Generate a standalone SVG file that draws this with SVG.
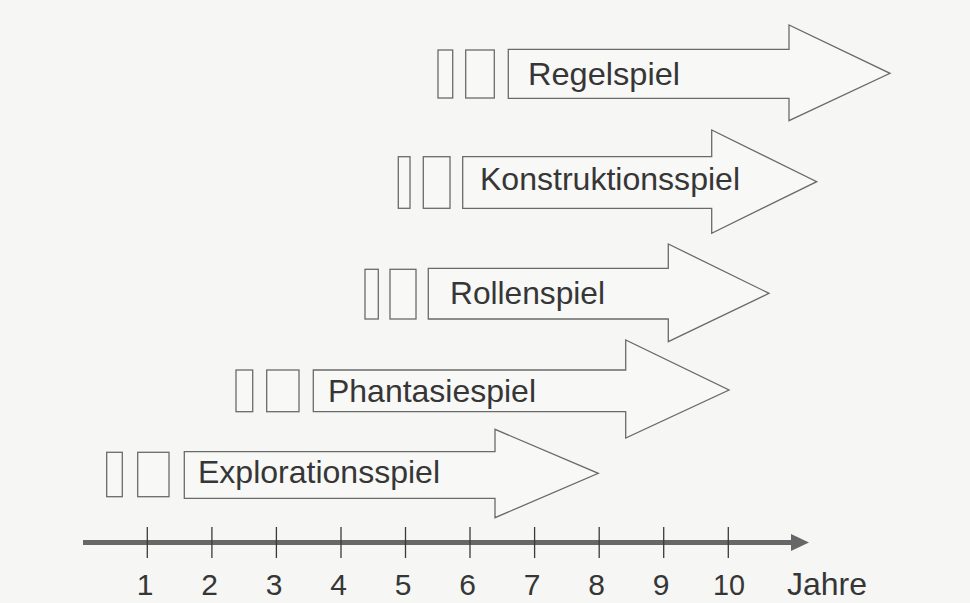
<svg xmlns="http://www.w3.org/2000/svg" width="970" height="603" viewBox="0 0 970 603">
  <style>
    .bg { fill: #f6f6f4; }
    .arr { fill: #f8f8f6; stroke: #6a6a6a; stroke-width: 1.3; stroke-linejoin: miter; }
    .box { fill: #f8f8f6; stroke: #6a6a6a; stroke-width: 1.3; }
    .lbl { font-family: "Liberation Sans", Arial, sans-serif; font-size: 30.5px; fill: #363636; }
    .num { font-family: "Liberation Sans", Arial, sans-serif; font-size: 30px; fill: #363636; text-anchor: middle; }
    .tick { stroke: #3a3a3a; stroke-width: 1.3; }
  </style>
  <rect class="bg" x="0" y="0" width="970" height="603"/>

  <g id="regelspiel">
    <rect class="box" x="438" y="50" width="14.7" height="48"/>
    <rect class="box" x="465.7" y="50" width="28.6" height="48"/>
    <path class="arr" d="M508.3,49.3 H789 V25 L890,73.3 L789,120.7 V98.3 H508.3 Z"/>
    <text class="lbl" x="528" y="85" textLength="152" lengthAdjust="spacingAndGlyphs">Regelspiel</text>
  </g>

  <g id="konstruktionsspiel">
    <rect class="box" x="398.3" y="156.7" width="11.7" height="51.6"/>
    <rect class="box" x="423.3" y="156.7" width="26.7" height="51.6"/>
    <path class="arr" d="M462.7,156.7 H711.7 V130 L816.7,181.7 L711.7,233.3 V208.3 H462.7 Z"/>
    <text class="lbl" x="480" y="190" textLength="260" lengthAdjust="spacingAndGlyphs">Konstruktionsspiel</text>
  </g>

  <g id="rollenspiel">
    <rect class="box" x="365" y="269.3" width="13.3" height="49.7"/>
    <rect class="box" x="390" y="269.3" width="26" height="49.7"/>
    <path class="arr" d="M428.3,268.3 H668.3 V244 L769,293.3 L668.3,341.7 V319 H428.3 Z"/>
    <text class="lbl" x="450" y="304" textLength="155" lengthAdjust="spacingAndGlyphs">Rollenspiel</text>
  </g>

  <g id="phantasiespiel">
    <rect class="box" x="236" y="370" width="16.7" height="41.7"/>
    <rect class="box" x="266.7" y="370" width="32.3" height="41.7"/>
    <path class="arr" d="M313.3,370 H625.7 V340 L729,390 L625.7,438 V411.7 H313.3 Z"/>
    <text class="lbl" x="328" y="401.5" textLength="208" lengthAdjust="spacingAndGlyphs">Phantasiespiel</text>
  </g>

  <g id="explorationsspiel">
    <rect class="box" x="106.7" y="452.3" width="15.6" height="44.4"/>
    <rect class="box" x="137.7" y="452.3" width="31.3" height="44.4"/>
    <path class="arr" d="M184.3,451.7 H495 V429.3 L598.3,473.3 L495,517.7 V498.3 H184.3 Z"/>
    <text class="lbl" x="198" y="482.5" textLength="242" lengthAdjust="spacingAndGlyphs">Explorationsspiel</text>
  </g>

  <g id="axis">
    <line x1="83" y1="542.5" x2="793" y2="542.5" stroke="#676767" stroke-width="5"/>
    <polygon points="791,534 809,542.5 791,551" fill="#676767"/>
    <line class="tick" x1="147.3" y1="527" x2="147.3" y2="558"/>
    <line class="tick" x1="211.9" y1="527" x2="211.9" y2="558"/>
    <line class="tick" x1="276.4" y1="527" x2="276.4" y2="558"/>
    <line class="tick" x1="341" y1="527" x2="341" y2="558"/>
    <line class="tick" x1="405.5" y1="527" x2="405.5" y2="558"/>
    <line class="tick" x1="470" y1="527" x2="470" y2="558"/>
    <line class="tick" x1="534.6" y1="527" x2="534.6" y2="558"/>
    <line class="tick" x1="599.2" y1="527" x2="599.2" y2="558"/>
    <line class="tick" x1="663.7" y1="527" x2="663.7" y2="558"/>
    <line class="tick" x1="728.3" y1="527" x2="728.3" y2="558"/>
    <text class="num" x="145" y="594.5">1</text>
    <text class="num" x="209.5" y="594.5">2</text>
    <text class="num" x="274" y="594.5">3</text>
    <text class="num" x="338.5" y="594.5">4</text>
    <text class="num" x="403" y="594.5">5</text>
    <text class="num" x="467.5" y="594.5">6</text>
    <text class="num" x="532" y="594.5">7</text>
    <text class="num" x="596.5" y="594.5">8</text>
    <text class="num" x="661" y="594.5">9</text>
    <text class="num" x="729" y="594.5" textLength="32" lengthAdjust="spacingAndGlyphs">10</text>
    <text class="lbl" x="787" y="594.5" textLength="80" lengthAdjust="spacingAndGlyphs">Jahre</text>
  </g>
</svg>
